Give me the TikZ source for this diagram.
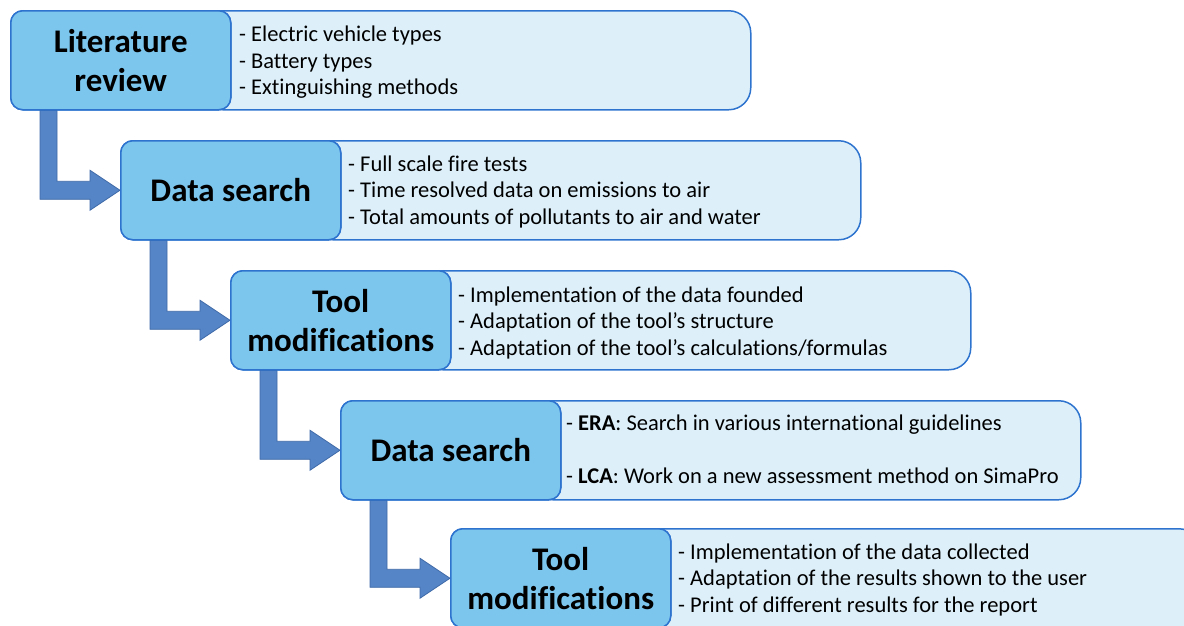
\documentclass[tikz,border=0pt]{standalone}
\usepackage{fontspec}
\setmainfont{Carlito}[Ligatures=NoCommon]
\usetikzlibrary{calc}

\definecolor{boxline}{HTML}{2E74CF}
\definecolor{stagefill}{HTML}{7CC6EE}
\definecolor{notefill}{HTML}{DDF0FA}
\definecolor{arrowfill}{HTML}{5585C6}
\definecolor{arrowline}{HTML}{3D68A6}

\tikzset{
  stagebox/.style={draw=boxline, fill=stagefill, line width=1.5pt,
    rounded corners=12pt, minimum width=220pt, minimum height=99pt,
    anchor=north west, align=center, inner sep=0pt,
    font=\fontsize{33}{39}\selectfont\bfseries},
  notebox/.style={draw=boxline, fill=notefill, line width=1.5pt,
    rounded corners=22pt, minimum height=99pt, anchor=north west, inner sep=0pt},
  notetext/.style={anchor=west, align=left, inner sep=0pt,
    font=\fontsize{22.5}{26.5}\selectfont},
  flowarrow/.style={fill=arrowfill, draw=arrowline, line width=0.8pt, line join=miter}
}

\begin{document}
\begin{tikzpicture}[x=1pt, y=-1pt]
\useasboundingbox (0,0) rectangle (1184,625);
\clip (0,0) rectangle (1184,625);

% note panels behind the stage boxes
\node[notebox, minimum width=550pt] (n1) at (200,10)  {};
\node[notebox, minimum width=550pt] (n2) at (310,140) {};
\node[notebox, minimum width=550pt] (n3) at (420,270) {};
\node[notebox, minimum width=550pt] (n4) at (530,400) {};
\node[notebox, minimum width=560pt] (n5) at (640,528) {};

% stage boxes
\node[stagebox] (d1) at (10,10)   {Literature\\review};
\node[stagebox] (d2) at (120,140) {Data search};
\node[stagebox] (d3) at (230,270) {Tool\\modifications};
\node[stagebox] (d4) at (340,400) {Data search};
\node[stagebox] (d5) at (450,528) {Tool\\modifications};

% bent block arrows between consecutive stages
\foreach \a/\b in {d1/d2, d2/d3, d3/d4, d4/d5}{
  \draw[flowarrow] let \p1=(\a.south west), \p2=(\b.west) in
    (\x1+30pt,\y1) -- (\x1+47pt,\y1) -- (\x1+47pt,\y2+9pt)
    -- (\x2-30pt,\y2+9pt) -- (\x2-30pt,\y2+20pt) -- (\x2,\y2)
    -- (\x2-30pt,\y2-20pt) -- (\x2-30pt,\y2-9pt) -- (\x1+30pt,\y2-9pt) -- cycle;
}
% redraw stage boxes over the arrow ends
\node[stagebox] at (d1.north west) {Literature\\review};
\node[stagebox] at (d2.north west) {Data search};
\node[stagebox] at (d3.north west) {Tool\\modifications};
\node[stagebox] at (d4.north west) {Data search};
\node[stagebox] at (d5.north west) {Tool\\modifications};

% notes
\node[notetext] (t1) at (239,62.5) {- Electric vehicle types\\- Battery types\\- Extinguishing methods};
\node[notetext] (t2) at (348,191.5) {- Full scale fire tests\\- Time resolved data on emissions to air\\- Total amounts of pollutants to air and water};
\node[notetext] (t3) at (458,322.5) {- Implementation of the data founded\\- Adaptation of the tool’s structure\\- Adaptation of the tool’s calculations/formulas};
\node[notetext] (t4) at (566,449.5) {- \textbf{ERA}: Search in various international guidelines\\[27pt]- \textbf{LCA}: Work on a new assessment method on SimaPro};
\node[notetext] (t5) at (678,579.5) {- Implementation of the data collected\\- Adaptation of the results shown to the user\\- Print of different results for the report};
\end{tikzpicture}
\end{document}
